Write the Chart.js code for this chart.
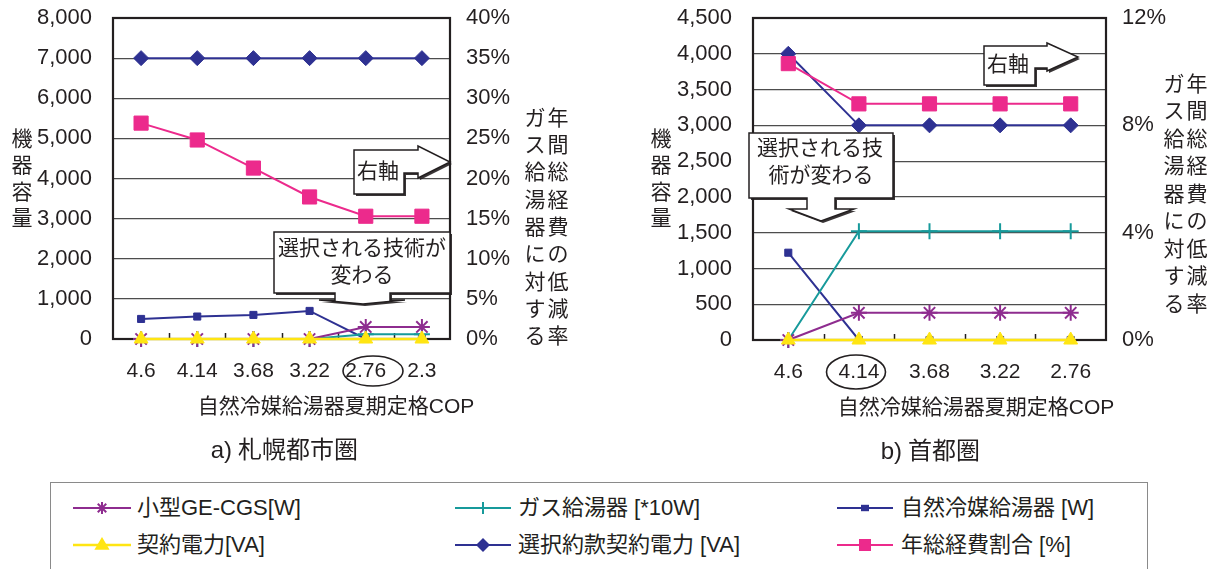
<!DOCTYPE html>
<html>
<head>
<meta charset="utf-8">
<script src="https://cdn.jsdelivr.net/npm/chart.js@4/dist/chart.umd.min.js"></script>
<style>
  html, body { margin: 0; padding: 0; background: #fff; }
  body { width: 1219px; height: 569px; position: relative; overflow: hidden;
         font-family: "Liberation Sans", "Noto Sans CJK JP", sans-serif; color: #231f20; }
  #cA { position: absolute; left: 0; top: 0; }
  #cB { position: absolute; left: 600px; top: 0; }
  #legendBox { position: absolute; left: 50px; top: 482px; width: 1098px; height: 110px;
               border: 1.5px solid #8a8a8a; box-sizing: border-box; }
  .lgMark { position: absolute; }
  .lgText { position: absolute; font-size: 22px; line-height: 30px; white-space: nowrap; }
</style>
</head>
<body>
<canvas id="cA" width="600" height="470"></canvas>
<canvas id="cB" width="619" height="470"></canvas>
<div id="legendBox"></div>
<script>
// ---- a) 札幌都市圏 ----
const copSapporo = ['4.6', '4.14', '3.68', '3.22', '2.76', '2.3'];
const geCgsSapporo = [0, 0, 0, 0, 300, 300];
const gasHeaterSapporo = [0, 0, 0, 0, 120, 120];
const co2HeaterSapporo = [500, 560, 600, 700, 0, 0];
const contractSapporo = [0, 0, 0, 0, 0, 0];
const selectedContractSapporo = [7000, 7000, 7000, 7000, 7000, 7000];
const costRatioSapporo = [26.9, 24.8, 21.3, 17.7, 15.3, 15.3];

// ---- b) 首都圏 ----
const copTokyo = ['4.6', '4.14', '3.68', '3.22', '2.76'];
const geCgsTokyo = [0, 380, 380, 380, 380];
const gasHeaterTokyo = [0, 1520, 1520, 1520, 1520];
const co2HeaterTokyo = [1220, 0, 0, 0, 0];
const contractTokyo = [0, 0, 0, 0, 0];
const selectedContractTokyo = [4000, 3000, 3000, 3000, 3000];
const costRatioTokyo = [10.3, 8.8, 8.8, 8.8, 8.8];

// axis ranges
const leftAxisSapporo = { max: 8000, step: 1000 };
const rightAxisSapporo = { max: 40, step: 5 };
const leftAxisTokyo = { max: 4500, step: 500 };
const rightAxisTokyo = { max: 12, step: 4 };

const seriesNames = ['小型GE-CGS[W]', 'ガス給湯器 [*10W]', '自然冷媒給湯器 [W]',
                     '契約電力[VA]', '選択約款契約電力 [VA]', '年総経費割合 [%]'];

const FONT = "'Liberation Sans', 'Noto Sans CJK JP', sans-serif";
const INK = '#231f20';
const C = {
  purple: '#8e2c8f',
  teal: '#179a9b',
  navy: '#2e3192',
  yellow: '#ffe512',
  pink: '#ec2a8c'
};

function buildDatasets(s) {
  const base = { tension: 0, clip: false, yAxisID: 'y', pointHoverRadius: 0 };
  return [
    Object.assign({}, base, { label: seriesNames[3], data: s.contract, borderColor: C.yellow,
      backgroundColor: C.yellow, pointBackgroundColor: C.yellow, pointBorderColor: C.yellow,
      pointStyle: 'triangle', pointRadius: 8, borderWidth: 2.5, pointBorderWidth: 1, order: 0 }),
    Object.assign({}, base, { label: seriesNames[5], data: s.ratio, yAxisID: 'y1', borderColor: C.pink,
      backgroundColor: C.pink, pointBackgroundColor: C.pink, pointBorderColor: C.pink,
      pointStyle: 'rect', pointRadius: 10, borderWidth: 2, pointBorderWidth: 1, order: 1 }),
    Object.assign({}, base, { label: seriesNames[4], data: s.selected, borderColor: C.navy,
      backgroundColor: C.navy, pointBackgroundColor: C.navy, pointBorderColor: C.navy,
      pointStyle: 'rectRot', pointRadius: 7.5, borderWidth: 2, pointBorderWidth: 1, order: 2 }),
    Object.assign({}, base, { label: seriesNames[0], data: s.geCgs, borderColor: C.purple,
      backgroundColor: C.purple, pointBorderColor: C.purple,
      pointStyle: 'star', pointRadius: 8, borderWidth: 2, pointBorderWidth: 2, order: 3 }),
    Object.assign({}, base, { label: seriesNames[1], data: s.gas, borderColor: C.teal,
      backgroundColor: C.teal, pointBorderColor: C.teal,
      pointStyle: 'cross', pointRadius: 8, borderWidth: 2, pointBorderWidth: 2, order: 4 }),
    Object.assign({}, base, { label: seriesNames[2], data: s.co2, borderColor: C.navy,
      backgroundColor: C.navy, pointBackgroundColor: C.navy, pointBorderColor: C.navy,
      pointStyle: 'rect', pointRadius: 5, borderWidth: 2, pointBorderWidth: 1, order: 5 })
  ];
}

function poly(ctx, pts) {
  ctx.beginPath();
  ctx.moveTo(pts[0][0], pts[0][1]);
  for (let i = 1; i < pts.length; i++) ctx.lineTo(pts[i][0], pts[i][1]);
  ctx.closePath();
}

function callout(ctx, pts, lines) {
  ctx.save();
  poly(ctx, pts);
  ctx.shadowColor = 'rgba(35,31,32,0.9)';
  ctx.shadowOffsetX = 2;
  ctx.shadowOffsetY = 2;
  ctx.fillStyle = '#fff';
  ctx.fill();
  ctx.shadowColor = 'transparent';
  ctx.lineWidth = 1.5;
  ctx.strokeStyle = INK;
  ctx.lineJoin = 'miter';
  ctx.stroke();
  ctx.fillStyle = INK;
  ctx.font = '21px ' + FONT;
  ctx.textAlign = 'center';
  ctx.textBaseline = 'middle';
  lines.forEach(l => ctx.fillText(l.t, l.x, l.y));
  ctx.restore();
}

function vertical(ctx, text, x, y0, step, size) {
  ctx.save();
  ctx.fillStyle = INK;
  ctx.font = size + 'px ' + FONT;
  ctx.textAlign = 'center';
  ctx.textBaseline = 'middle';
  [...text].forEach((ch, i) => ctx.fillText(ch, x, y0 + i * step));
  ctx.restore();
}

// frame, inner tick marks and all the labels around each plot
function decorPlugin(d) {
  return {
    id: 'decor',
    beforeDatasetsDraw(chart) {
      const ctx = chart.ctx, a = chart.chartArea, xs = chart.scales.x;
      ctx.save();
      ctx.strokeStyle = INK;
      ctx.lineWidth = 1.5;
      const n = chart.data.labels.length;
      for (let i = 1; i < n; i++) {
        const x = Math.round((xs.getPixelForValue(i - 1) + xs.getPixelForValue(i)) / 2) + 0.5;
        ctx.beginPath();
        ctx.moveTo(x, a.bottom);
        ctx.lineTo(x, a.bottom - 6);
        ctx.stroke();
      }
      ctx.lineWidth = 2.2;
      ctx.strokeRect(a.left, a.top, a.right - a.left, a.bottom - a.top);
      ctx.restore();
    },
    afterDraw(chart) {
      const ctx = chart.ctx;
      vertical(ctx, '機器容量', d.leftTitleX, 140, 26.5, 21);
      vertical(ctx, 'ガス給湯器に対する', d.rightTitleX1, d.rightTitleY, d.rightTitleStep, 21);
      vertical(ctx, '年間総経費の低減率', d.rightTitleX2, d.rightTitleY, d.rightTitleStep, 21);

      ctx.save();
      ctx.fillStyle = INK;
      ctx.textBaseline = 'middle';
      ctx.font = '21px ' + FONT;
      ctx.textAlign = 'center';
      ctx.fillText('自然冷媒給湯器夏期定格COP', d.xTitleX, d.xTitleY);
      ctx.font = '24px ' + FONT;
      ctx.textAlign = 'right';
      ctx.fillText(d.capTag, d.capSplit, d.capY);
      ctx.textAlign = 'left';
      ctx.fillText(d.capName, d.capSplit + 6, d.capY);

      ctx.strokeStyle = INK;
      ctx.lineWidth = 1.6;
      ctx.beginPath();
      ctx.ellipse(d.ring[0], d.ring[1], d.ring[2], d.ring[3], 0, 0, Math.PI * 2);
      ctx.stroke();
      ctx.restore();

      callout(ctx, d.axisArrow, d.axisText);
      callout(ctx, d.changeArrow, d.changeText);
    }
  };
}

// vertical scales: fixed width, and no extra room reserved for the end labels
function fixVertical(width) {
  return sc => {
    sc.width = width;
    sc.paddingTop = 0;
    sc.paddingBottom = 0;
  };
}

function makeChart(id, labels, s, yr, y1r, d) {
  return new Chart(document.getElementById(id), {
    type: 'line',
    data: { labels: labels, datasets: buildDatasets(s) },
    options: {
      responsive: false,
      animation: false,
      devicePixelRatio: 1,
      layout: { padding: { top: 18, left: 0, right: 0, bottom: 0 } },
      plugins: { legend: { display: false }, tooltip: { enabled: false } },
      scales: {
        x: {
          type: 'category', offset: true,
          grid: { display: false, drawTicks: false },
          border: { display: false },
          ticks: { color: INK, font: { family: FONT, size: 21 }, padding: 20, maxRotation: 0, autoSkip: false },
          afterFit: sc => { sc.height = d.xHeight; sc.paddingLeft = 0; sc.paddingRight = 0; }
        },
        y: {
          position: 'left', min: 0, max: yr.max,
          grid: { color: '#4d4d4d', lineWidth: 1.2, drawTicks: false },
          border: { display: false },
          ticks: { stepSize: yr.step, color: INK, font: { family: FONT, size: 22 }, padding: 21,
                   callback: v => v.toLocaleString('en-US') },
          afterFit: fixVertical(d.yWidth)
        },
        y1: {
          position: 'right', min: 0, max: y1r.max,
          grid: { display: false, drawTicks: false },
          border: { display: false },
          ticks: { stepSize: y1r.step, color: INK, font: { family: FONT, size: 22 }, padding: 16,
                   callback: v => v + '%' },
          afterFit: fixVertical(d.y1Width)
        }
      }
    },
    plugins: [decorPlugin(d)]
  });
}

makeChart('cA', copSapporo,
  { geCgs: geCgsSapporo, gas: gasHeaterSapporo, co2: co2HeaterSapporo, contract: contractSapporo,
    selected: selectedContractSapporo, ratio: costRatioSapporo },
  leftAxisSapporo, rightAxisSapporo,
  { yWidth: 113, y1Width: 150, xHeight: 131,
    leftTitleX: 22, rightTitleX1: 535, rightTitleX2: 558, rightTitleY: 119, rightTitleStep: 27.3,
    xTitleX: 336, xTitleY: 407, capTag: 'a)', capName: '札幌都市圏', capSplit: 232, capY: 451,
    ring: [373, 371, 30, 15],
    axisArrow: [[354, 150], [418, 150], [418, 146], [450, 162], [418, 178], [418, 173], [404, 173], [404, 194], [354, 194]],
    axisText: [{ t: '右軸', x: 378, y: 172 }],
    changeArrow: [[274, 232], [450, 232], [450, 293], [390, 293], [390, 300], [405, 300], [363, 304],
                  [319, 300], [335, 300], [335, 293], [274, 293]],
    changeText: [{ t: '選択される技術が', x: 362, y: 249 }, { t: '変わる', x: 362, y: 276 }]
  });

makeChart('cB', copTokyo,
  { geCgs: geCgsTokyo, gas: gasHeaterTokyo, co2: co2HeaterTokyo, contract: contractTokyo,
    selected: selectedContractTokyo, ratio: costRatioTokyo },
  leftAxisTokyo, rightAxisTokyo,
  { yWidth: 153, y1Width: 113, xHeight: 130,
    leftTitleX: 61, rightTitleX1: 574, rightTitleX2: 597, rightTitleY: 85, rightTitleStep: 27.5,
    xTitleX: 376, xTitleY: 408, capTag: 'b)', capName: '首都圏', capSplit: 302, capY: 452,
    ring: [256, 372, 29.5, 17],
    axisArrow: [[384, 46], [447, 46], [447, 43], [478, 57], [447, 71], [447, 68], [435, 68], [435, 85], [384, 85]],
    axisText: [{ t: '右軸', x: 408, y: 65 }],
    changeArrow: [[149, 133], [293, 133], [293, 198], [235, 198], [235, 209], [254, 209], [221, 221],
                  [189, 209], [207, 209], [207, 198], [149, 198]],
    changeText: [{ t: '選択される技', x: 220, y: 149 }, { t: '術が変わる', x: 221, y: 176 }]
  });

// ---- legend ----
function drawMark(ctx, style, x, y, r, color) {
  ctx.save();
  ctx.strokeStyle = color;
  ctx.fillStyle = color;
  ctx.lineWidth = 2;
  ctx.beginPath();
  if (style === 'star' || style === 'cross') {
    const angles = style === 'star' ? [0, 45, 90, 135] : [0, 90];
    angles.forEach(a => {
      const t = a * Math.PI / 180;
      ctx.moveTo(x - Math.cos(t) * r, y - Math.sin(t) * r);
      ctx.lineTo(x + Math.cos(t) * r, y + Math.sin(t) * r);
    });
    ctx.stroke();
  } else if (style === 'rect') {
    ctx.fillRect(x - r, y - r * 0.8, 2 * r, 1.6 * r);
  } else if (style === 'square') {
    ctx.fillRect(x - r, y - r, 2 * r, 2 * r);
  } else if (style === 'triangle') {
    ctx.moveTo(x, y - r);
    ctx.lineTo(x + r * 0.95, y + r * 0.6);
    ctx.lineTo(x - r * 0.95, y + r * 0.6);
    ctx.closePath();
    ctx.fill();
  } else if (style === 'diamond') {
    ctx.moveTo(x, y - r);
    ctx.lineTo(x + r, y);
    ctx.lineTo(x, y + r);
    ctx.lineTo(x - r, y);
    ctx.closePath();
    ctx.fill();
  }
  ctx.restore();
}

const legendItems = [
  { name: seriesNames[0], color: C.purple, style: 'star', r: 6, col: 0, row: 0 },
  { name: seriesNames[1], color: C.teal, style: 'cross', r: 6, col: 1, row: 0 },
  { name: seriesNames[2], color: C.navy, style: 'rect', r: 4, col: 2, row: 0 },
  { name: seriesNames[3], color: C.yellow, style: 'triangle', r: 8, col: 0, row: 1 },
  { name: seriesNames[4], color: C.navy, style: 'diamond', r: 7, col: 1, row: 1 },
  { name: seriesNames[5], color: C.pink, style: 'square', r: 6, col: 2, row: 1 }
];
const legendCols = [{ x: 73, w: 58, tx: 137 }, { x: 455, w: 56, tx: 518 }, { x: 837, w: 56, tx: 901 }];
const legendRows = [508, 545];

legendItems.forEach(it => {
  const col = legendCols[it.col], cy = legendRows[it.row];
  const cv = document.createElement('canvas');
  cv.className = 'lgMark';
  cv.width = col.w; cv.height = 30;
  cv.style.left = col.x + 'px';
  cv.style.top = (cy - 15) + 'px';
  document.body.appendChild(cv);
  const ctx = cv.getContext('2d');
  ctx.strokeStyle = it.color;
  ctx.lineWidth = it.style === 'triangle' ? 2.5 : 2;
  ctx.beginPath();
  ctx.moveTo(0, 15);
  ctx.lineTo(col.w, 15);
  ctx.stroke();
  drawMark(ctx, it.style, col.w / 2, 15, it.r, it.color);

  const sp = document.createElement('div');
  sp.className = 'lgText';
  sp.textContent = it.name;
  sp.style.left = col.tx + 'px';
  sp.style.top = (cy - 15) + 'px';
  document.body.appendChild(sp);
});
</script>
</body>
</html>
